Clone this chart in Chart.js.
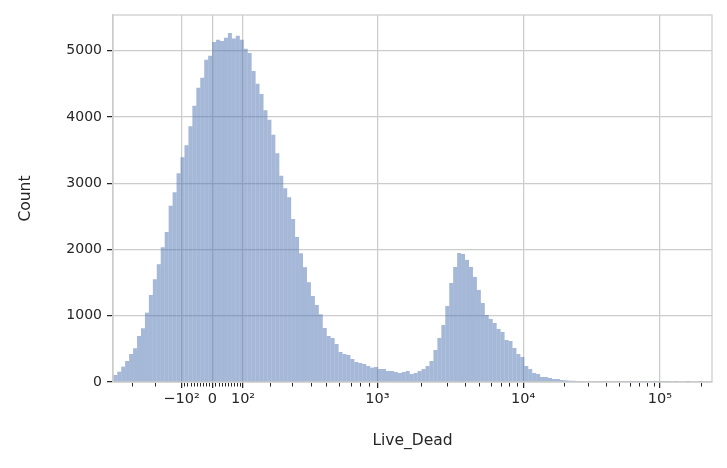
<!DOCTYPE html>
<html><head><meta charset="utf-8">
<script src="https://cdn.jsdelivr.net/npm/chart.js@4"></script>
<style>html,body{margin:0;padding:0;background:#fff}</style>
</head><body>
<canvas id="c" width="727" height="468"></canvas>
<script>
// histogram counts, bins equally spaced on the (asinh/log-like) transformed axis
const binStartValue = -403;
const counts = [106,156,232,317,423,509,695,811,1047,1314,1551,1778,2034,2266,2659,2865,3152,3394,3575,3862,4169,4441,4592,4864,4924,5131,5166,5146,5196,5267,5186,5227,5166,5030,4965,4693,4502,4346,4104,3958,3731,3454,3112,2926,2790,2462,2190,1944,1733,1506,
1299,1163,1022,816,695,665,574,453,423,408,347,302,287,272,242,217,227,196,196,166,166,151,136,151,166,121,136,166,196,242,317,483,665,861,1148,1495,1737,1949,1934,1843,1737,1586,1390,1193,1012,952,891,801,755,634,619,514,423,378,242,196,136,121,76,76,61,45,45,30,
25,20,18,15,12,10,8,7,6,5,5,4,4,3,3,3,2,2,2,2,1,1,1,1,1,1,1,0,1,0,0,1,0,0,1,0,0,0,0];
const majorTickValues = [-100, 0, 100, 1000, 10000, 100000];
const majorTickLabels = ['\u221210\u00b2', '0', '10\u00b2', '10\u00b3', '10\u2074', '10\u2075'];
const minorTickValues = [-300,-200,-90,-80,-70,-60,-50,-40,-30,-20,-10,10,20,30,40,50,60,70,80,90,
 200,300,400,500,600,700,800,900,2000,3000,4000,5000,6000,7000,8000,9000,
 20000,30000,40000,50000,60000,70000,80000,90000,200000];
const yTicks = [0,1000,2000,3000,4000,5000];

// axis transform
function f(x){
  const s = Math.sign(x), ax = Math.abs(x);
  if (ax <= 1000) return s*78.4*Math.asinh(ax/250);
  const l = Math.log10(ax/1000);
  const base = 78.4*Math.asinh(4);
  let u = l <= 1 ? base + 145*l : base + 145 + 136*(l-1);
  return s*u;
}
const binWidthU = 3.93;
const u0 = f(binStartValue);
const data = counts.map((c,i)=>({x: u0 + (i+0.5)*binWidthU, y: c}));

const minorPlugin = {
  id:'minor',
  afterDraw(chart){
    const ctx = chart.ctx, a = chart.chartArea, sx = chart.scales.x;
    ctx.save();
    ctx.strokeStyle = '#cccccc'; ctx.lineWidth = 1.25;
    ctx.strokeRect(a.left, a.top, a.right-a.left, a.bottom-a.top);
    ctx.strokeStyle = '#262626'; ctx.lineWidth = 1;
    minorTickValues.forEach(v=>{
      const p = sx.getPixelForValue(f(v));
      if (p < a.left || p > a.right) return;
      const xx = Math.round(p)+0.5;
      ctx.beginPath(); ctx.moveTo(xx, a.bottom+1); ctx.lineTo(xx, a.bottom+4.5); ctx.stroke();
    });
    ctx.restore();
  }
};

new Chart(document.getElementById('c'), {
  type:'bar',
  data:{datasets:[{data, backgroundColor:'rgba(76,114,176,0.5)', borderWidth:0, inflateAmount:0,
     barPercentage:1, categoryPercentage:1, grouped:false}]},
  options:{
    responsive:false, animation:false, devicePixelRatio:1,
    layout:{padding:{top:15,right:15,left:13,bottom:14}},
    plugins:{legend:{display:false}, tooltip:{enabled:false}},
    scales:{
      x:{type:'linear', offset:false, min:f(-405), max:f(240000),
        afterBuildTicks(s){ s.ticks = majorTickValues.map(v=>({value:f(v)})); },
        afterFit(s){ s.height = 72; },
        ticks:{autoSkip:false, maxRotation:0, color:'#262626', padding:3,
          font:{family:'DejaVu Sans', size:14.5},
          callback:(v,i)=>majorTickLabels[i]},
        grid:{offset:false, color:'#cccccc', lineWidth:1.25, tickColor:'#262626', tickLength:6, tickWidth:1.25},
        border:{color:'#cccccc', width:1.25},
        title:{display:true, text:'Live_Dead', color:'#262626', font:{family:'DejaVu Sans', size:15.5}, padding:{top:2}}
      },
      y:{min:0, max:5540,
        afterBuildTicks(s){ s.ticks = yTicks.map(v=>({value:v})); },
        afterFit(s){ s.width = 100; },
        ticks:{color:'#262626', padding:5, font:{family:'DejaVu Sans', size:14}, callback:v=>String(v)},
        grid:{offset:false, color:'#cccccc', lineWidth:1.25, tickColor:'#262626', tickLength:6, tickWidth:1.25},
        border:{color:'#cccccc', width:1.25},
        title:{display:true, text:'Count', color:'#262626', font:{family:'DejaVu Sans', size:15.5}, padding:{bottom:2}}
      }
    }
  },
  plugins:[minorPlugin]
});
</script>
</body></html>
